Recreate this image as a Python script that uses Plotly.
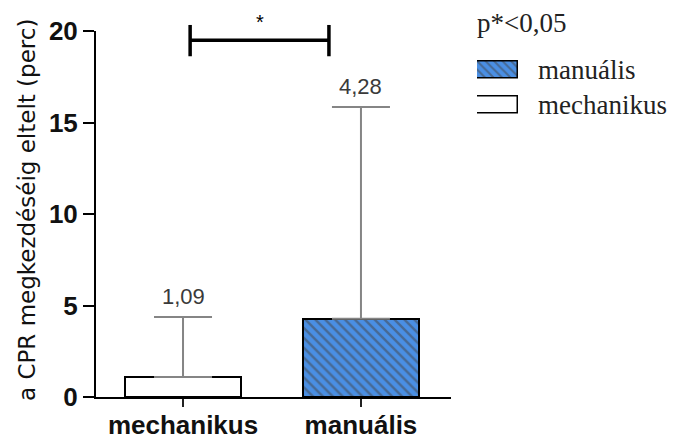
import plotly.graph_objects as go

# ---- data ----
categories = ["mechanikus", "manuális"]
means = [1.09, 4.28]
upper_whisker = [4.37, 15.85]
value_labels = ["1,09", "4,28"]
y_ticks = [0, 5, 10, 15, 20]
legend_order = ["mechanikus", "manuális"]   # bottom to top in legend
sig_text = "*"
p_text = "p*<0,05"
y_title = "a CPR megkezdéséig eltelt (perc)"

# ---- styles ----
BLUE = "#4a8fe4"
fill_bg = {"mechanikus": "white", "manuális": BLUE}
fill_shape = {"mechanikus": "", "manuális": "\\"}

W, H = 679, 442
ML, MR, MT, MB = 96, 10, 31, 45
plot_w = W - ML - MR
main_w = 355
xmin, xmax = -0.489, 1.506
ymin, ymax = 0, 20

xpos = list(range(len(categories)))
err_plus = [u - m for u, m in zip(upper_whisker, means)]

fig = go.Figure()
fig.add_trace(go.Bar(
    x=xpos, y=means, width=0.65,
    marker=dict(
        color=[fill_bg[c] for c in categories],
        line=dict(color="black", width=2),
        pattern=dict(shape=[fill_shape[c] for c in categories],
                     bgcolor=[fill_bg[c] for c in categories],
                     fgcolor="black", size=7, solidity=0.35),
    ),
    error_y=dict(type="data", symmetric=False, array=err_plus,
                 arrayminus=[0] * len(means), color="#858585",
                 thickness=2, width=29),
    showlegend=False, hoverinfo="skip",
))

# legend swatches drawn as bars on their own small axes
fig.add_trace(go.Bar(
    x=[1] * len(legend_order), y=list(range(len(legend_order))),
    orientation="h", width=0.5, xaxis="x2", yaxis="y2",
    marker=dict(
        color=[fill_bg[c] for c in legend_order],
        line=dict(color="black", width=1.5),
        pattern=dict(shape=[fill_shape[c] for c in legend_order],
                     bgcolor=[fill_bg[c] for c in legend_order],
                     fgcolor="black", size=6, solidity=0.35),
    ),
    showlegend=False, hoverinfo="skip",
))

def px_x(px):
    return (px - ML) / plot_w

def px_y(py):
    return (H - MB - py) / (H - MB - MT)

def data_x_to_paper(v):
    return (v - xmin) / (xmax - xmin) * main_w / plot_w

def data_y_to_paper(v):
    return (v - ymin) / (ymax - ymin)

fig.update_layout(
    width=W, height=H, autosize=False,
    margin=dict(l=ML, r=MR, t=MT, b=MB, autoexpand=False),
    paper_bgcolor="white", plot_bgcolor="white",
    bargap=0,
    xaxis=dict(domain=[0, main_w / plot_w], range=[xmin, xmax],
               tickvals=xpos, ticktext=categories, automargin=False,
               showline=True, linecolor="black", linewidth=2,
               ticks="outside", ticklen=8, tickwidth=2, tickcolor="#222",
               ticklabelstandoff=-4,
               showgrid=False, zeroline=False,
               tickfont=dict(family="Liberation Sans", size=26, color="#111", weight="bold")),
    yaxis=dict(domain=[0, 1], range=[ymin, ymax], tickvals=y_ticks, automargin=False,
               showline=True, linecolor="black", linewidth=2,
               ticks="outside", ticklen=11, tickwidth=2, tickcolor="black",
               showgrid=False, zeroline=False,
               tickfont=dict(family="Liberation Sans", size=26, color="#111", weight="bold")),
    xaxis2=dict(domain=[px_x(477), px_x(518)], range=[0, 1], visible=False,
                anchor="y2", fixedrange=True),
    yaxis2=dict(domain=[px_y(122.5), px_y(52.5)], range=[-0.5, 1.5], visible=False,
                anchor="x2", fixedrange=True),
)

# value labels above the whiskers
for x, top, lab in zip(xpos, upper_whisker, value_labels):
    fig.add_annotation(x=x, y=top, text=lab, showarrow=False, yanchor="bottom",
                       yshift=6, font=dict(family="Liberation Sans", size=22, color="#3a3a3a"))

# significance bracket
bx0, bx1, by, by0, by1 = 0.04, 0.82, 19.5, 18.62, 20.33
line = dict(color="black", width=3.5)
fig.add_shape(type="line", xref="paper", yref="paper",
              x0=data_x_to_paper(bx0), x1=data_x_to_paper(bx1),
              y0=data_y_to_paper(by), y1=data_y_to_paper(by), line=line)
for bx in (bx0, bx1):
    fig.add_shape(type="line", xref="paper", yref="paper",
                  x0=data_x_to_paper(bx), x1=data_x_to_paper(bx),
                  y0=data_y_to_paper(by0), y1=data_y_to_paper(by1), line=line)
fig.add_annotation(xref="paper", yref="paper", x=data_x_to_paper((bx0 + bx1) / 2),
                   y=px_y(22), text=sig_text, showarrow=False,
                   yanchor="middle", xanchor="center",
                   font=dict(family="Liberation Sans", size=20, color="black"))

# y axis title
fig.add_annotation(xref="paper", yref="paper", x=px_x(27), y=px_y(210), text=y_title,
                   textangle=-90, showarrow=False, xanchor="center", yanchor="middle",
                   font=dict(family="DejaVu Sans", size=23, color="#111"))

# legend texts
fig.add_annotation(xref="paper", yref="paper", x=px_x(475), y=px_y(23), text=p_text,
                   showarrow=False, xanchor="left", yanchor="middle",
                   font=dict(family="Liberation Serif", size=27, color="#222"))
leg_y = {"manuális": 70, "mechanikus": 105}
for c in legend_order:
    fig.add_annotation(xref="paper", yref="paper", x=px_x(536), y=px_y(leg_y[c]), text=c,
                       showarrow=False, xanchor="left", yanchor="middle",
                       font=dict(family="Liberation Serif", size=27, color="#222"))

fig.write_html("out.html")
